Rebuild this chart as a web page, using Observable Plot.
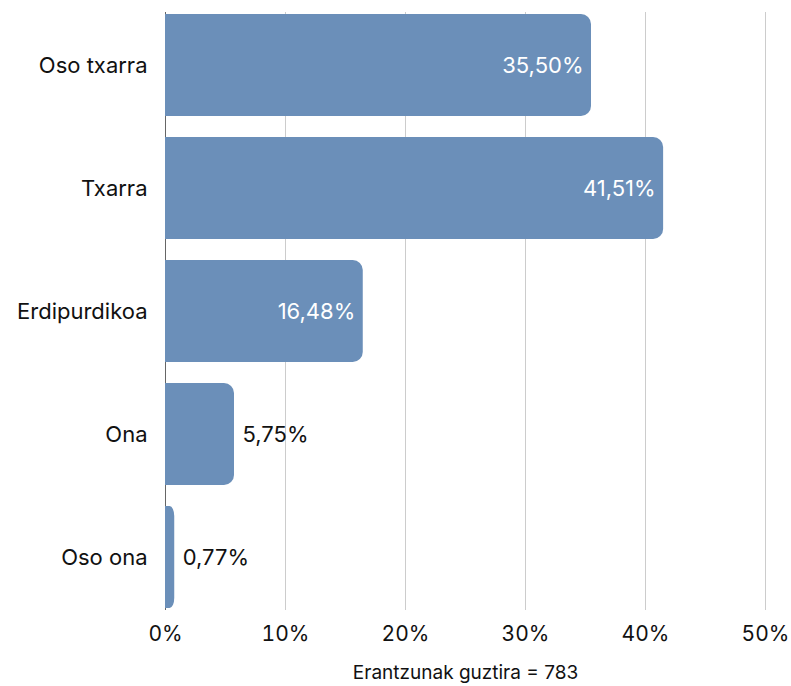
<!DOCTYPE html>
<html>
<head>
<meta charset="utf-8">
<script src="https://cdn.jsdelivr.net/npm/d3@7"></script>
<script src="https://cdn.jsdelivr.net/npm/@observablehq/plot@0.6"></script>
<style>
  html, body { margin: 0; padding: 0; background: #fff; }
  #chart { width: 791px; height: 686px; }
  svg { font-family: Inter, "Noto Sans", sans-serif; }
</style>
</head>
<body>
<div id="chart"></div>
<script>
const categories = ["Oso txarra", "Txarra", "Erdipurdikoa", "Ona", "Oso ona"];
const values = [35.50, 41.51, 16.48, 5.75, 0.77];
const xTicks = [0, 10, 20, 30, 40, 50];
const caption = "Erantzunak guztira = 783";

const data = categories.map((c, i) => ({cat: c, v: values[i]}));
const fmt = v => v.toFixed(2).replace(".", ",") + "%";
const inside = data.filter(d => d.v >= 10);
const outside = data.filter(d => d.v < 10);
const barColor = "#6b8fb9";

const chart = Plot.plot({
  width: 791,
  height: 686,
  marginTop: 12,
  marginBottom: 76,
  marginLeft: 165,
  marginRight: 26,
  style: {fontSize: "20px", fontFamily: "Inter, 'Noto Sans', sans-serif", color: "#111"},
  x: {domain: [0, 50], ticks: xTicks, tickFormat: d => d + "%", label: null},
  y: {domain: categories, padding: 0.17, paddingOuter: 0, label: null},
  marks: [
    Plot.gridX(xTicks.filter(t => t > 0), {stroke: "#ccc", strokeOpacity: 1, strokeWidth: 1}),
    Plot.ruleX([0], {stroke: "#666", strokeWidth: 1}),
    Plot.barX(data, {y: "cat", x1: 0, x2: "v", fill: barColor, rx: 10}),
    Plot.barX(data, {y: "cat", x1: 0, x2: d => Math.min(d.v / 2, 1), fill: barColor}),
    Plot.text(inside, {y: "cat", x: "v", text: d => fmt(d.v), textAnchor: "end", dx: -8, fill: "white", fontSize: 22}),
    Plot.text(outside, {y: "cat", x: "v", text: d => fmt(d.v), textAnchor: "start", dx: 8, fill: "#111", fontSize: 22}),
    Plot.axisX({ticks: xTicks, tickFormat: d => d + "%", tickSize: 0, tickPadding: 16, fontSize: 21, label: null}),
    Plot.axisY({tickSize: 0, tickPadding: 18, fontSize: 22, label: null}),
    Plot.text([caption], {frameAnchor: "bottom", dy: 68, text: d => d, fontSize: 19, fill: "#111"})
  ]
});
document.getElementById("chart").appendChild(chart);
</script>
</body>
</html>
